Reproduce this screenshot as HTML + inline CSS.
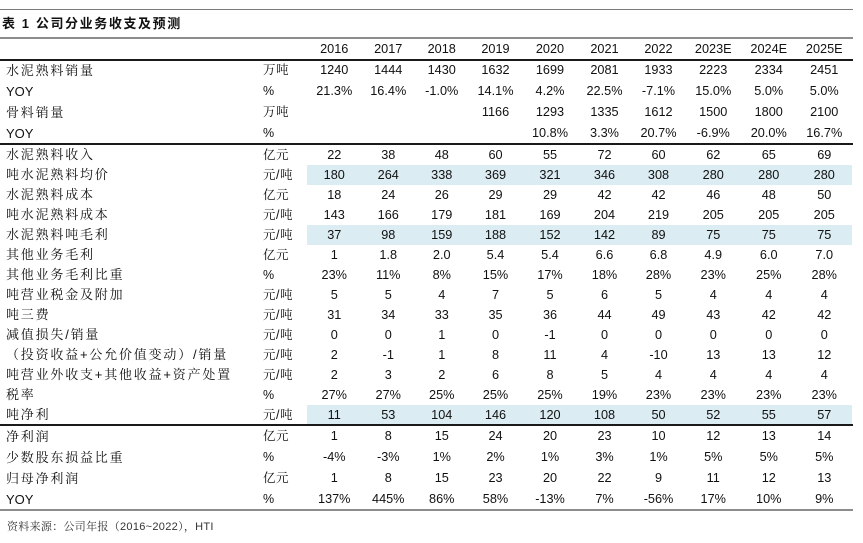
<!DOCTYPE html>
<html>
<head>
<meta charset="utf-8">
<style>
  html,body{margin:0;padding:0;background:#fff;}
  body{width:863px;height:543px;position:relative;overflow:hidden;color:#111;
       font-family:"Liberation Sans","Noto Serif CJK SC",serif;}
  .ln{position:absolute;left:0;width:853px;}
  .title{position:absolute;left:2px;top:14px;height:19px;line-height:19px;font-size:13px;font-weight:bold;
         letter-spacing:1.6px;font-family:"Liberation Sans","Noto Sans CJK SC",sans-serif;white-space:nowrap;color:#111;}
  .r{position:absolute;left:0;width:863px;display:flex;white-space:nowrap;font-size:12.7px;}
  .r.a{height:21px;line-height:21px;}
  .r.b{height:20px;line-height:20px;}
  .l{width:263px;box-sizing:border-box;padding-left:6px;font-family:"Liberation Sans","Noto Serif CJK SC",serif;
     font-size:13px;letter-spacing:1.8px;}
  .l.y{letter-spacing:0;font-family:"Liberation Sans",sans-serif;font-size:13px;}
  .u{width:44px;font-family:"Liberation Sans","Noto Serif CJK SC",serif;font-size:12.5px;letter-spacing:0.5px;}
  .c{text-align:center;font-family:"Liberation Sans",sans-serif;}
  .c:nth-child(3){width:54.5px}
  .c:nth-child(4){width:53.5px}
  .c:nth-child(5){width:53.5px}
  .c:nth-child(6){width:54px}
  .c:nth-child(7){width:55px}
  .c:nth-child(8){width:54px}
  .c:nth-child(9){width:54px}
  .c:nth-child(10){width:55.5px}
  .c:nth-child(11){width:55.5px}
  .c:nth-child(12){width:55.5px}
  .hl .c{background:#dbecf2;}
  .foot{position:absolute;left:7px;top:519px;height:16px;line-height:16px;font-size:11px;color:#333;white-space:nowrap;
        font-family:"Liberation Sans","Noto Serif CJK SC",serif;letter-spacing:0.3px;}
</style>
</head>
<body>
<div class="ln" style="top:9px;height:1px;background:#7a7a7a;"></div>
<div class="title">表 1 公司分业务收支及预测</div>
<div class="ln" style="top:37px;height:2px;background:#8c8c8c;"></div>

<div class="r a" style="top:39px;"><span class="l"></span><span class="u"></span><span class="c">2016</span><span class="c">2017</span><span class="c">2018</span><span class="c">2019</span><span class="c">2020</span><span class="c">2021</span><span class="c">2022</span><span class="c">2023E</span><span class="c">2024E</span><span class="c">2025E</span></div>
<div class="ln" style="top:59px;height:2px;background:#1a1a1a;"></div>

<div class="r a" style="top:60px;"><span class="l">水泥熟料销量</span><span class="u">万吨</span><span class="c">1240</span><span class="c">1444</span><span class="c">1430</span><span class="c">1632</span><span class="c">1699</span><span class="c">2081</span><span class="c">1933</span><span class="c">2223</span><span class="c">2334</span><span class="c">2451</span></div>
<div class="r a" style="top:81px;"><span class="l y">YOY</span><span class="u">%</span><span class="c">21.3%</span><span class="c">16.4%</span><span class="c">-1.0%</span><span class="c">14.1%</span><span class="c">4.2%</span><span class="c">22.5%</span><span class="c">-7.1%</span><span class="c">15.0%</span><span class="c">5.0%</span><span class="c">5.0%</span></div>
<div class="r a" style="top:102px;"><span class="l">骨料销量</span><span class="u">万吨</span><span class="c"></span><span class="c"></span><span class="c"></span><span class="c">1166</span><span class="c">1293</span><span class="c">1335</span><span class="c">1612</span><span class="c">1500</span><span class="c">1800</span><span class="c">2100</span></div>
<div class="r a" style="top:123px;"><span class="l y">YOY</span><span class="u">%</span><span class="c"></span><span class="c"></span><span class="c"></span><span class="c"></span><span class="c">10.8%</span><span class="c">3.3%</span><span class="c">20.7%</span><span class="c">-6.9%</span><span class="c">20.0%</span><span class="c">16.7%</span></div>
<div class="ln" style="top:143px;height:2px;background:#1a1a1a;"></div>

<div class="r b" style="top:145px;"><span class="l">水泥熟料收入</span><span class="u">亿元</span><span class="c">22</span><span class="c">38</span><span class="c">48</span><span class="c">60</span><span class="c">55</span><span class="c">72</span><span class="c">60</span><span class="c">62</span><span class="c">65</span><span class="c">69</span></div>
<div class="r b hl" style="top:165px;"><span class="l">吨水泥熟料均价</span><span class="u">元/吨</span><span class="c">180</span><span class="c">264</span><span class="c">338</span><span class="c">369</span><span class="c">321</span><span class="c">346</span><span class="c">308</span><span class="c">280</span><span class="c">280</span><span class="c">280</span></div>
<div class="r b" style="top:185px;"><span class="l">水泥熟料成本</span><span class="u">亿元</span><span class="c">18</span><span class="c">24</span><span class="c">26</span><span class="c">29</span><span class="c">29</span><span class="c">42</span><span class="c">42</span><span class="c">46</span><span class="c">48</span><span class="c">50</span></div>
<div class="r b" style="top:205px;"><span class="l">吨水泥熟料成本</span><span class="u">元/吨</span><span class="c">143</span><span class="c">166</span><span class="c">179</span><span class="c">181</span><span class="c">169</span><span class="c">204</span><span class="c">219</span><span class="c">205</span><span class="c">205</span><span class="c">205</span></div>
<div class="r b hl" style="top:225px;"><span class="l">水泥熟料吨毛利</span><span class="u">元/吨</span><span class="c">37</span><span class="c">98</span><span class="c">159</span><span class="c">188</span><span class="c">152</span><span class="c">142</span><span class="c">89</span><span class="c">75</span><span class="c">75</span><span class="c">75</span></div>
<div class="r b" style="top:245px;"><span class="l">其他业务毛利</span><span class="u">亿元</span><span class="c">1</span><span class="c">1.8</span><span class="c">2.0</span><span class="c">5.4</span><span class="c">5.4</span><span class="c">6.6</span><span class="c">6.8</span><span class="c">4.9</span><span class="c">6.0</span><span class="c">7.0</span></div>
<div class="r b" style="top:265px;"><span class="l">其他业务毛利比重</span><span class="u">%</span><span class="c">23%</span><span class="c">11%</span><span class="c">8%</span><span class="c">15%</span><span class="c">17%</span><span class="c">18%</span><span class="c">28%</span><span class="c">23%</span><span class="c">25%</span><span class="c">28%</span></div>
<div class="r b" style="top:285px;"><span class="l">吨营业税金及附加</span><span class="u">元/吨</span><span class="c">5</span><span class="c">5</span><span class="c">4</span><span class="c">7</span><span class="c">5</span><span class="c">6</span><span class="c">5</span><span class="c">4</span><span class="c">4</span><span class="c">4</span></div>
<div class="r b" style="top:305px;"><span class="l">吨三费</span><span class="u">元/吨</span><span class="c">31</span><span class="c">34</span><span class="c">33</span><span class="c">35</span><span class="c">36</span><span class="c">44</span><span class="c">49</span><span class="c">43</span><span class="c">42</span><span class="c">42</span></div>
<div class="r b" style="top:325px;"><span class="l">减值损失/销量</span><span class="u">元/吨</span><span class="c">0</span><span class="c">0</span><span class="c">1</span><span class="c">0</span><span class="c">-1</span><span class="c">0</span><span class="c">0</span><span class="c">0</span><span class="c">0</span><span class="c">0</span></div>
<div class="r b" style="top:345px;"><span class="l">（投资收益+公允价值变动）/销量</span><span class="u">元/吨</span><span class="c">2</span><span class="c">-1</span><span class="c">1</span><span class="c">8</span><span class="c">11</span><span class="c">4</span><span class="c">-10</span><span class="c">13</span><span class="c">13</span><span class="c">12</span></div>
<div class="r b" style="top:365px;"><span class="l">吨营业外收支+其他收益+资产处置</span><span class="u">元/吨</span><span class="c">2</span><span class="c">3</span><span class="c">2</span><span class="c">6</span><span class="c">8</span><span class="c">5</span><span class="c">4</span><span class="c">4</span><span class="c">4</span><span class="c">4</span></div>
<div class="r b" style="top:385px;"><span class="l">税率</span><span class="u">%</span><span class="c">27%</span><span class="c">27%</span><span class="c">25%</span><span class="c">25%</span><span class="c">25%</span><span class="c">19%</span><span class="c">23%</span><span class="c">23%</span><span class="c">23%</span><span class="c">23%</span></div>
<div class="r b hl" style="top:405px;"><span class="l">吨净利</span><span class="u">元/吨</span><span class="c">11</span><span class="c">53</span><span class="c">104</span><span class="c">146</span><span class="c">120</span><span class="c">108</span><span class="c">50</span><span class="c">52</span><span class="c">55</span><span class="c">57</span></div>
<div class="ln" style="top:424px;height:2px;background:#1a1a1a;"></div>

<div class="r a" style="top:426px;"><span class="l">净利润</span><span class="u">亿元</span><span class="c">1</span><span class="c">8</span><span class="c">15</span><span class="c">24</span><span class="c">20</span><span class="c">23</span><span class="c">10</span><span class="c">12</span><span class="c">13</span><span class="c">14</span></div>
<div class="r a" style="top:447px;"><span class="l">少数股东损益比重</span><span class="u">%</span><span class="c">-4%</span><span class="c">-3%</span><span class="c">1%</span><span class="c">2%</span><span class="c">1%</span><span class="c">3%</span><span class="c">1%</span><span class="c">5%</span><span class="c">5%</span><span class="c">5%</span></div>
<div class="r a" style="top:468px;"><span class="l">归母净利润</span><span class="u">亿元</span><span class="c">1</span><span class="c">8</span><span class="c">15</span><span class="c">23</span><span class="c">20</span><span class="c">22</span><span class="c">9</span><span class="c">11</span><span class="c">12</span><span class="c">13</span></div>
<div class="r a" style="top:489px;"><span class="l y">YOY</span><span class="u">%</span><span class="c">137%</span><span class="c">445%</span><span class="c">86%</span><span class="c">58%</span><span class="c">-13%</span><span class="c">7%</span><span class="c">-56%</span><span class="c">17%</span><span class="c">10%</span><span class="c">9%</span></div>
<div class="ln" style="top:509px;height:2px;background:#8c8c8c;"></div>

<div class="foot">资料来源：公司年报（2016~2022），HTI</div>
</body>
</html>
